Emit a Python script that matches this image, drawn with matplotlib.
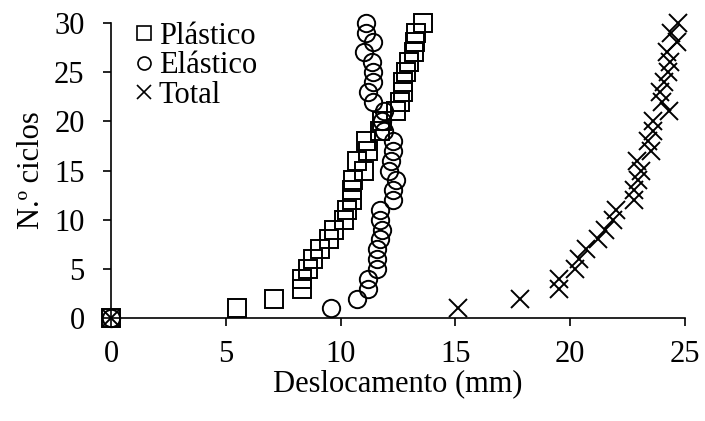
import matplotlib.pyplot as plt

plt.rcParams['font.family'] = ['Liberation Serif', 'DejaVu Serif']

# --- dados ---
ciclos = list(range(0, 31))

plastico = [0, 5.5, 7.1, 8.3, 8.3, 8.6, 8.8, 9.1, 9.5, 9.7, 10.15,
            10.3, 10.5, 10.5, 10.55, 11.0, 10.7, 11.2, 11.1, 11.7, 11.8,
            12.4, 12.6, 12.7, 12.7, 12.85, 13.0, 13.2, 13.25, 13.3, 13.6]

elastico = [0, 9.6, 10.7, 11.2, 11.2, 11.6, 11.6, 11.6, 11.7, 11.8, 11.7,
            11.7, 12.3, 12.3, 12.4, 12.1, 12.2, 12.3, 12.3, 11.9, 11.8,
            11.9, 11.4, 11.2, 11.4, 11.4, 11.35, 11.0, 11.4, 11.1, 11.1]

total = [0, 15.1, 17.8, 19.5, 19.5, 20.2, 20.4, 20.7, 21.2, 21.5, 21.85,
         22.0, 22.8, 22.8, 22.95, 23.1, 22.9, 23.5, 23.4, 23.6, 23.6,
         24.3, 24.0, 23.9, 24.1, 24.25, 24.35, 24.2, 24.65, 24.4, 24.7]

series = [
    (plastico, 's', 'Plástico'),
    (elastico, 'o', 'Elástico'),
    (total, 'x', 'Total'),
]

FS = 22
MS = 12.5

fig = plt.figure(figsize=(7.05, 4.21), dpi=100)
ax = fig.add_axes([0.1574, 0.244, 0.8142, 0.702])

for vals, mk, lab in series:
    ax.plot(vals, ciclos, linestyle='none', marker=mk, markersize=MS,
            markerfacecolor='none', markeredgecolor='black',
            markeredgewidth=1.4, label=lab, clip_on=False, zorder=3)

ax.set_xlim(0, 25)
ax.set_ylim(0, 30)
ax.set_xticks(range(0, 26, 5))
ax.set_yticks(range(0, 31, 5))

for s in ['top', 'right']:
    ax.spines[s].set_visible(False)
for s in ['left', 'bottom']:
    ax.spines[s].set_linewidth(1.2)

ax.tick_params(direction='out', length=6, width=1.2, labelsize=FS)
ax.tick_params(axis='x', pad=10)
ax.tick_params(axis='y', pad=13)

ax.set_xlabel('Deslocamento (mm)', fontsize=FS, labelpad=0)
ax.set_ylabel('N.º ciclos', fontsize=FS, labelpad=6)

leg = ax.legend(loc='upper left', bbox_to_anchor=(0.022, 1.045), frameon=False,
                fontsize=FS, handlelength=0.55, handletextpad=0.2,
                labelspacing=0.02, borderaxespad=0, markerscale=0.75)
for h in leg.legend_handles:
    h.set_markeredgewidth(1.2)

fig.savefig('out.png', dpi=100)
